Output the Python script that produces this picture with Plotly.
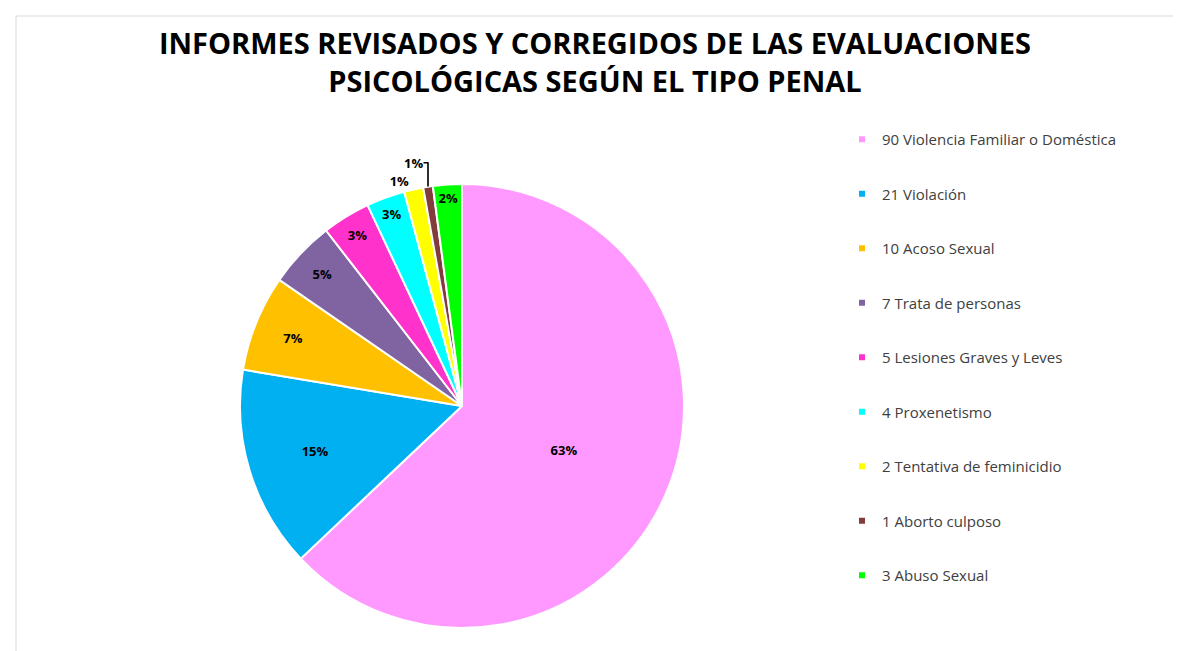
import plotly.graph_objects as go

categories = ["90 Violencia Familiar o Doméstica", "21 Violación", "10 Acoso Sexual",
              "7 Trata de personas", "5 Lesiones Graves y Leves", "4 Proxenetismo",
              "2 Tentativa de feminicidio", "1 Aborto culposo", "3 Abuso Sexual"]
values = [90, 21, 10, 7, 5, 4, 2, 1, 3]
colors = ["#FF99FF", "#00B0F0", "#FFC000", "#8064A2", "#FF33CC", "#00FFFF",
          "#FFFF00", "#833C3C", "#00FF00"]

W, H = 1181, 651
cx, cy, r = 454, 398, 222

positions = ["outside" if v / sum(values) < 0.015 else "inside" for v in values]

fig = go.Figure()
fig.add_trace(go.Pie(
    labels=categories, values=values, sort=False, direction="clockwise", rotation=0,
    marker=dict(colors=colors, line=dict(color="white", width=2)),
    textinfo="percent", texttemplate="<b>%{percent:.0%}</b>",
    textposition=positions, insidetextorientation="horizontal",
    textfont=dict(family="Open Sans", size=13, color="black"),
    showlegend=False, hoverinfo="label+value+percent",
    domain=dict(x=[(cx - r) / W, (cx + r) / W], y=[1 - (cy + r) / H, 1 - (cy - r) / H]),
))

for i, (lab, col) in enumerate(zip(categories, colors)):
    fig.add_trace(go.Scatter(
        x=[None], y=[None], mode="markers", name=lab, legendgroup=str(i),
        marker=dict(symbol="square", size=6, color=col), showlegend=True,
    ))

fig.update_layout(
    width=W, height=H, margin=dict(l=0, r=0, t=0, b=0),
    paper_bgcolor="white", plot_bgcolor="white",
    xaxis=dict(visible=False), yaxis=dict(visible=False),
    title=dict(text="<b>INFORMES REVISADOS Y CORREGIDOS DE LAS EVALUACIONES<br>PSICOLÓGICAS SEGÚN EL TIPO PENAL</b>",
               x=0.497, xanchor="center", y=1 - 46 / H, yanchor="middle",
               font=dict(family="Open Sans", size=29, color="#000000")),
    legend=dict(x=834 / W, y=1 - 115 / H, xanchor="left", yanchor="top",
                font=dict(family="Open Sans", size=15, color="#404040"),
                tracegroupgap=32, itemwidth=30, bgcolor="rgba(0,0,0,0)"),
    uniformtext=dict(minsize=13, mode="show"),
    shapes=[dict(type="rect", xref="paper", yref="paper", x0=8 / W, x1=1, y0=0, y1=1 - 8 / H,
                 line=dict(color="#D9D9D9", width=1))],
)

fig.write_html("out.html")
